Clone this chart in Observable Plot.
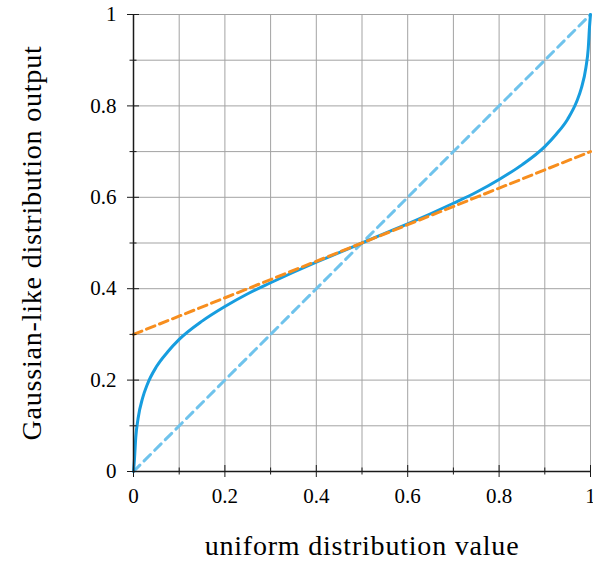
<!DOCTYPE html>
<html>
<head>
<meta charset="utf-8">
<script src="https://cdn.jsdelivr.net/npm/d3@7"></script>
<script src="https://cdn.jsdelivr.net/npm/@observablehq/plot@0.6"></script>
<style>
  html, body { margin: 0; padding: 0; background: #ffffff; }
  g[aria-label="text"] text { letter-spacing: 0.8px; }
</style>
</head>
<body>
<div id="chart"></div>
<script>
// ---- data ----
const curveX = [0, 0.002, 0.005, 0.01, 0.02, 0.03, 0.05, 0.075, 0.1, 0.15, 0.2, 0.25, 0.3, 0.35, 0.4, 0.45, 0.5,
                0.55, 0.6, 0.65, 0.7, 0.75, 0.8, 0.85, 0.9, 0.925, 0.95, 0.97, 0.98, 0.99, 0.995, 0.998, 1];
const curveY = [0, 0.025, 0.075, 0.116, 0.161, 0.190, 0.229, 0.262, 0.289, 0.329, 0.361, 0.389, 0.413, 0.436, 0.458, 0.479, 0.5,
                0.521, 0.542, 0.564, 0.587, 0.611, 0.639, 0.671, 0.711, 0.738, 0.771, 0.810, 0.839, 0.884, 0.925, 0.975, 1];
const tangentX = [0, 1];
const tangentY = [0.3, 0.7];
const identityX = [0, 1];
const identityY = [0, 1];
const majorTicks = [0, 0.2, 0.4, 0.6, 0.8, 1];
const minorTicks = [0.1, 0.3, 0.5, 0.7, 0.9];
const gridTicks = [0.1, 0.2, 0.3, 0.4, 0.5, 0.6, 0.7, 0.8, 0.9, 1];
const xTitle = "uniform distribution value";
const yTitle = "Gaussian-like distribution output";

const curve = curveX.map((x, i) => ({x, y: curveY[i]}));
const tangent = tangentX.map((x, i) => ({x, y: tangentY[i]}));
const identity = identityX.map((x, i) => ({x, y: identityY[i]}));

const FONT = "'Liberation Serif', 'DejaVu Serif', serif";
const axisColor = "#1a1a1a";
const fmt = d => `${d}`;

const chart = Plot.plot({
  width: 593,
  height: 565,
  marginLeft: 133,
  marginRight: 3,
  marginTop: 14,
  marginBottom: 94,
  style: {fontFamily: FONT, fontSize: "21px", color: "#000", background: "#fff"},
  x: {domain: [0, 1]},
  y: {domain: [0, 1]},
  marks: [
    Plot.gridX(gridTicks, {stroke: "#a3a3a3", strokeOpacity: 1, strokeWidth: 1}),
    Plot.gridY(gridTicks, {stroke: "#a3a3a3", strokeOpacity: 1, strokeWidth: 1}),
    Plot.line(identity, {x: "x", y: "y", stroke: "#6fc3ec", strokeWidth: 3, strokeDasharray: "9,6"}),
    Plot.line(curve, {x: "x", y: "y", stroke: "#179ddf", strokeWidth: 3, curve: "monotone-x"}),
    Plot.line(tangent, {x: "x", y: "y", stroke: "#f78e1e", strokeWidth: 3, strokeDasharray: "9,5"}),
    Plot.ruleX([0], {stroke: axisColor, strokeWidth: 1.5}),
    Plot.ruleY([0], {stroke: axisColor, strokeWidth: 1.5}),
    // outer major ticks + labels
    Plot.axisX(majorTicks, {tickSize: 6, tickPadding: 11, fontSize: 21, tickFormat: fmt, label: null, stroke: axisColor, fill: "#000"}),
    Plot.axisY(majorTicks, {tickSize: 6, tickPadding: 11, fontSize: 21, tickFormat: fmt, label: null, stroke: axisColor, fill: "#000"}),
    // inner major ticks
    Plot.axisX(majorTicks, {tickSize: 6, dy: -6, fill: "none", label: null, stroke: axisColor}),
    Plot.axisY(majorTicks, {tickSize: 6, dx: 6, fill: "none", label: null, stroke: axisColor}),
    // minor ticks
    Plot.axisX(minorTicks, {tickSize: 3.5, fill: "none", label: null, stroke: axisColor}),
    Plot.axisX(minorTicks, {tickSize: 3.5, dy: -3.5, fill: "none", label: null, stroke: axisColor}),
    Plot.axisY(minorTicks, {tickSize: 3.5, fill: "none", label: null, stroke: axisColor}),
    Plot.axisY(minorTicks, {tickSize: 3.5, dx: 3.5, fill: "none", label: null, stroke: axisColor}),
    // axis titles
    Plot.text([xTitle], {text: d => d, frameAnchor: "bottom", textAnchor: "middle", lineAnchor: "bottom", dy: 83, fontSize: 28, fill: "#000"}),
    Plot.text([yTitle], {text: d => d, frameAnchor: "left", textAnchor: "middle", lineAnchor: "bottom", rotate: -90, dx: -93, fontSize: 28, fill: "#000"})
  ]
});
document.getElementById("chart").appendChild(chart);
</script>
</body>
</html>
